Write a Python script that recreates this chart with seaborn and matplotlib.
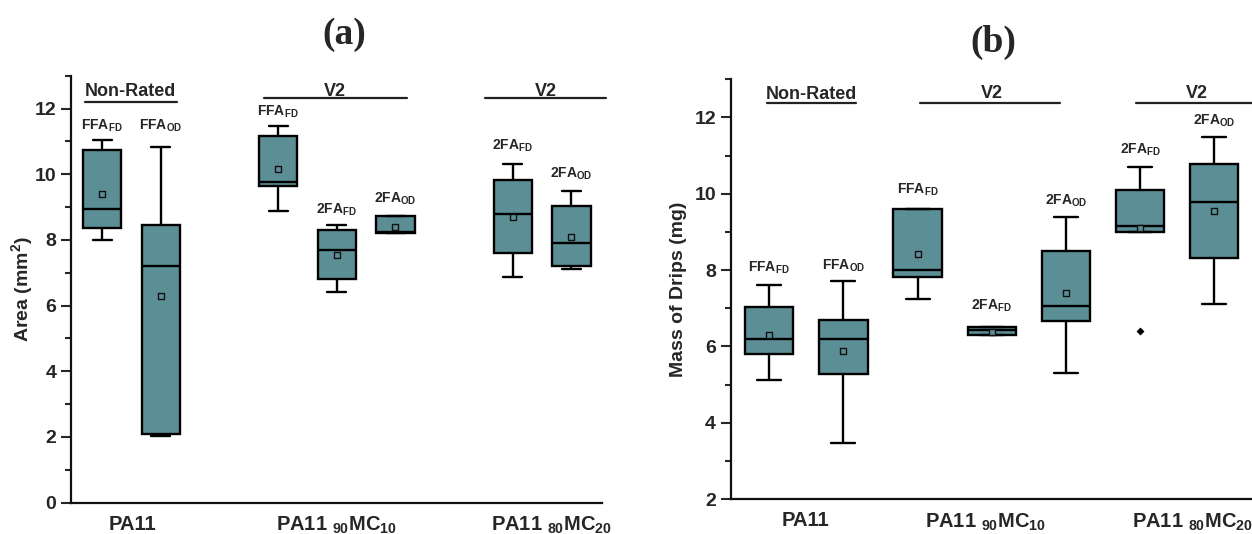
import numpy as np
import pandas as pd
import matplotlib
matplotlib.use("Agg")
import matplotlib.pyplot as plt
from matplotlib.ticker import MultipleLocator
import seaborn as sns

# ---------------- data ----------------
groups = ["PA11", "PA11 $_{90}$MC$_{10}$", "PA11 $_{80}$MC$_{20}$"]
headers = ["Non-Rated", "V2", "V2"]

labels_a = ["FFA$_{FD}$", "FFA$_{OD}$", "FFA$_{FD}$", "2FA$_{FD}$", "2FA$_{OD}$", "2FA$_{FD}$", "2FA$_{OD}$"]
wlo_a = [8.00, 2.04, 8.87, 6.41, 8.22, 6.87, 7.12]
q1_a = [8.37, 2.09, 9.65, 6.81, 8.22, 7.59, 7.20]
med_a = [8.93, 7.20, 9.75, 7.68, 8.24, 8.80, 7.90]
q3_a = [10.74, 8.44, 11.16, 8.30, 8.73, 9.81, 9.02]
whi_a = [11.04, 10.84, 11.47, 8.44, 8.73, 10.30, 9.49]
mean_a = [9.40, 6.29, 10.17, 7.55, 8.39, 8.69, 8.10]

labels_b = ["FFA$_{FD}$", "FFA$_{OD}$", "FFA$_{FD}$", "2FA$_{FD}$", "2FA$_{OD}$", "2FA$_{FD}$", "2FA$_{OD}$"]
wlo_b = [5.11, 3.48, 7.23, 6.30, 5.29, 9.01, 7.10]
q1_b = [5.80, 5.28, 7.83, 6.30, 6.66, 9.01, 8.31]
med_b = [6.19, 6.19, 8.00, 6.42, 7.06, 9.16, 9.79]
q3_b = [7.02, 6.70, 9.59, 6.52, 8.50, 10.10, 10.78]
whi_b = [7.60, 7.72, 9.59, 6.52, 9.39, 10.69, 11.50]
mean_b = [6.29, 5.89, 8.43, 6.38, 7.39, 9.09, 9.54]
outlier_box_b = [5]
outlier_val_b = [6.40]

# ---------------- layout ----------------
slots_a = [0, 1, 3, 4, 5, 7, 8]
slots_b = [0, 1, 2, 3, 4, 5, 6]
label_y_a = [11.47, 11.47, 11.90, 8.93, 9.24, 10.86, 10.00]
label_y_b = [8.07, 8.11, 10.11, 7.07, 9.81, 11.16, 11.90]
group_x_a = [0.52, 4.0, 7.66]
group_x_b = [0.49, 2.91, 5.70]
# header: (text x, text y, line y, line x0, line x1)
hdr_a = [(0.49, 12.51, 12.21, -0.29, 1.28), (3.97, 12.51, 12.32, 2.76, 5.19), (7.57, 12.51, 12.32, 6.52, 8.59)]
hdr_b = [(0.57, 12.60, 12.39, -0.03, 1.17), (3.00, 12.63, 12.39, 2.03, 3.92), (5.77, 12.63, 12.39, 4.95, 6.62)]

teal = "#5b8f95"

sns.set_style("ticks")
plt.rcParams["font.family"] = ["Liberation Sans", "DejaVu Sans"]
plt.rcParams["font.weight"] = "bold"
plt.rcParams["mathtext.fontset"] = "custom"
plt.rcParams["mathtext.rm"] = "Liberation Sans:bold"
plt.rcParams["mathtext.bf"] = "Liberation Sans:bold"
plt.rcParams["mathtext.it"] = "Liberation Sans:bold"
plt.rcParams["mathtext.default"] = "rm"

W, H = 1252, 534
fig = plt.figure(figsize=(W / 100, H / 100), dpi=100)
ax_a = fig.add_axes([71 / W, (H - 502.5) / H, 531 / W, (502.5 - 75.7) / H])
ax_b = fig.add_axes([730.7 / W, (H - 499) / H, 522.1 / W, (499 - 79.3) / H])


def draw(ax, slots, wlo, q1, med, q3, whi, means, labels, label_y, ylim, yticks,
         group_x, hdr, xlim, ylabel, label_x):
    rows = []
    for i, s in enumerate(slots):
        for v in (wlo[i], q1[i], med[i], q3[i], whi[i]):
            rows.append({"slot": s, "value": v})
    df = pd.DataFrame(rows)
    sns.boxplot(data=df, x="slot", y="value", native_scale=True, width=0.65,
                whis=(0, 100), color=teal, saturation=1, linecolor="black",
                linewidth=1.7, showfliers=False, ax=ax)
    sns.scatterplot(x=slots, y=means, marker="s", s=18, color=teal,
                    edgecolor="#111111", linewidth=1.0, ax=ax, zorder=5, legend=False)
    for s, t, y in zip(slots, labels, label_y):
        ax.text(s, y, t, ha="center", va="center", fontsize=10, fontweight="bold")
    for (tx, ty, ly, x0, x1), h in zip(hdr, headers):
        ax.text(tx, ty, h, ha="center", va="center", fontsize=13, fontweight="bold")
        ax.plot([x0, x1], [ly, ly], color="#222222", lw=1.6, clip_on=False)
    ax.set_xlim(*xlim)
    ax.set_ylim(*ylim)
    ax.set_yticks(yticks)
    ax.set_yticklabels([str(v) for v in yticks])
    ax.yaxis.set_minor_locator(MultipleLocator(1))
    ax.set_xticks(group_x)
    ax.set_xticklabels(groups)
    ax.tick_params(axis="x", length=0, pad=9, labelsize=14.5)
    ax.tick_params(axis="y", which="major", length=7, width=1.5, labelsize=14, direction="out")
    ax.tick_params(axis="y", which="minor", length=4, width=1.5, direction="out")
    for lab in ax.get_xticklabels() + ax.get_yticklabels():
        lab.set_fontweight("bold")
    sns.despine(ax=ax)
    for sp in ("left", "bottom"):
        ax.spines[sp].set_linewidth(1.6)
        ax.spines[sp].set_color("#111111")
    ax.set_xlabel("")
    ax.set_ylabel(ylabel, fontsize=14, fontweight="bold")
    ax.yaxis.set_label_coords(label_x, 0.5)


draw(ax_a, slots_a, wlo_a, q1_a, med_a, q3_a, whi_a, mean_a, labels_a, label_y_a,
     (0, 13), list(range(0, 13, 2)), group_x_a, hdr_a, (-0.53, 8.52),
     "Area (mm$^2$)", -0.068)
draw(ax_b, slots_b, wlo_b, q1_b, med_b, q3_b, whi_b, mean_b, labels_b, label_y_b,
     (2, 13), list(range(2, 13, 2)), group_x_b, hdr_b, (-0.52, 6.52),
     "Mass of Drips (mg)", -0.084)
sns.scatterplot(x=[slots_b[i] for i in outlier_box_b], y=outlier_val_b, marker="D",
                s=14, color="black", edgecolor="black", ax=ax_b, zorder=5, legend=False)

fig.text(344 / W, 1 - 35 / H, "(a)", ha="center", va="center", fontsize=27,
         fontweight="bold", family=["Liberation Serif", "DejaVu Serif"])
fig.text(993 / W, 1 - 42 / H, "(b)", ha="center", va="center", fontsize=27,
         fontweight="bold", family=["Liberation Serif", "DejaVu Serif"])

fig.savefig("out.png", dpi=100)
